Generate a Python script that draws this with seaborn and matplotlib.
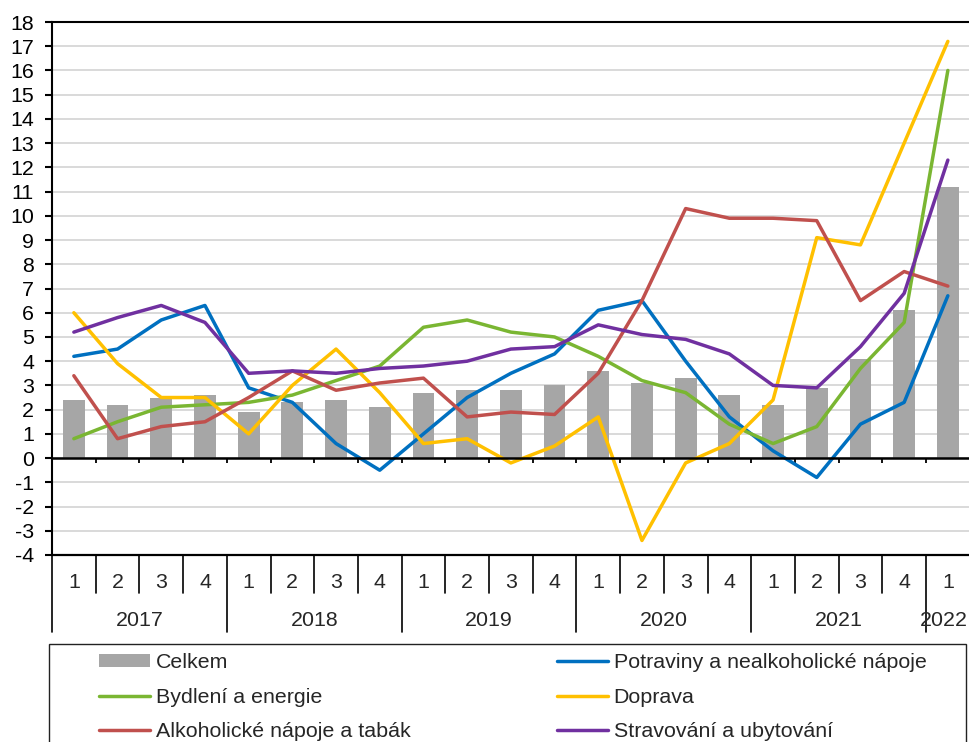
import numpy as np
import pandas as pd
import matplotlib
matplotlib.use("Agg")
import matplotlib.pyplot as plt
from matplotlib.patches import Patch, Rectangle
from matplotlib.lines import Line2D
from matplotlib.transforms import blended_transform_factory
import seaborn as sns

# ---------------- data ----------------
years = ["2017", "2018", "2019", "2020", "2021", "2022"]
quarters = ["1", "2", "3", "4"] * 5 + ["1"]

celkem = [2.4, 2.2, 2.5, 2.6, 1.9, 2.3, 2.4, 2.1, 2.7, 2.8,
          2.8, 3.0, 3.6, 3.1, 3.3, 2.6, 2.2, 2.9, 4.1, 6.1, 11.2]
potraviny = [4.2, 4.5, 5.7, 6.3, 2.9, 2.3, 0.6, -0.5, 1.0, 2.5,
             3.5, 4.3, 6.1, 6.5, 4.0, 1.7, 0.3, -0.8, 1.4, 2.3, 6.7]
bydleni = [0.8, 1.5, 2.1, 2.2, 2.3, 2.6, 3.2, 3.8, 5.4, 5.7,
           5.2, 5.0, 4.2, 3.2, 2.7, 1.4, 0.6, 1.3, 3.7, 5.6, 16.0]
doprava = [6.0, 3.9, 2.5, 2.5, 1.0, 3.0, 4.5, 2.7, 0.6, 0.8,
           -0.2, 0.5, 1.7, -3.4, -0.2, 0.6, 2.4, 9.1, 8.8, 13.0, 17.2]
alkohol = [3.4, 0.8, 1.3, 1.5, 2.5, 3.6, 2.8, 3.1, 3.3, 1.7,
           1.9, 1.8, 3.5, 6.5, 10.3, 9.9, 9.9, 9.8, 6.5, 7.7, 7.1]
stravovani = [5.2, 5.8, 6.3, 5.6, 3.5, 3.6, 3.5, 3.7, 3.8, 4.0,
              4.5, 4.6, 5.5, 5.1, 4.9, 4.3, 3.0, 2.9, 4.6, 6.8, 12.3]

series_names = ["Potraviny a nealkoholické nápoje", "Bydlení a energie", "Doprava",
                "Alkoholické nápoje a tabák", "Stravování a ubytování"]
series_values = [potraviny, bydleni, doprava, alkohol, stravovani]
series_colors = ["#0070c0", "#7ab632", "#ffc000", "#c0504d", "#7030a0"]
bar_label = "Celkem"
bar_color = "#a6a6a6"
yticks = list(range(-4, 19))

# ---------------- style ----------------
sns.set_style("white")
plt.rcParams["font.family"] = ["Liberation Sans", "DejaVu Sans"]
FS = 15.4

W, H = 969, 742
fig = plt.figure(figsize=(W / 100, H / 100), dpi=100)
ax_left, ax_top, ax_bottom = 52, 22, 555
step = 43.7
n = len(celkem)
ax = fig.add_axes([ax_left / W, 1 - ax_bottom / H, n * step / W, (ax_bottom - ax_top) / H])

x = np.arange(n)
bar_df = pd.DataFrame({"x": x, "v": celkem})
sns.barplot(data=bar_df, x="x", y="v", native_scale=True, width=0.5,
            color=bar_color, saturation=1, ax=ax, zorder=2, linewidth=0)

line_df = pd.concat([pd.DataFrame({"x": x, "v": vals, "serie": name})
                     for name, vals in zip(series_names, series_values)], ignore_index=True)
sns.lineplot(data=line_df, x="x", y="v", hue="serie", hue_order=series_names,
             palette=series_colors, linewidth=2.5, ax=ax, legend=False, zorder=3,
             sort=False)

ax.set_xlim(-0.5, n - 0.5)
ax.set_ylim(-4, 18)
ax.set_xlabel("")
ax.set_ylabel("")

# axes / grid
ax.set_yticks(yticks)
ax.set_yticklabels([str(t) for t in yticks])
ax.yaxis.grid(True, color="#cfcfcf", linewidth=1.1)
ax.xaxis.grid(False)
ax.set_axisbelow(True)
ax.tick_params(axis="y", direction="out", length=5, width=1.5, pad=8,
               labelsize=FS, left=True, colors="black")
for s in ["left", "top"]:
    ax.spines[s].set_visible(True)
    ax.spines[s].set_color("black")
    ax.spines[s].set_linewidth(1.5)
ax.spines["right"].set_visible(False)
ax.spines["bottom"].set_position(("data", 0))
ax.spines["bottom"].set_color("black")
ax.spines["bottom"].set_linewidth(1.8)
ax.spines["bottom"].set_zorder(4)
ax.set_xticks(np.arange(-0.5, n, 1.0))
ax.tick_params(axis="x", direction="out", length=3.8, width=1.3, bottom=True,
               labelbottom=False, colors="black")
ax.axhline(-4, color="black", linewidth=1.6, clip_on=False, zorder=4)

# category table below the plot
trans = blended_transform_factory(ax.transData, ax.transAxes)
hpx = ax_bottom - ax_top
def ypx(p):
    return -(p - ax_bottom) / hpx

year_bounds = [-0.5, 3.5, 7.5, 11.5, 15.5, 19.5]
for b in np.arange(-0.5, n, 1.0):
    if b in year_bounds:
        ax.plot([b, b], [0, ypx(632)], transform=trans, color="black", lw=1.2, clip_on=False)
    else:
        ax.plot([b, b], [0, ypx(593)], transform=trans, color="black", lw=1.2, clip_on=False)
for i, q in enumerate(quarters):
    ax.text(i, ypx(582), q, transform=trans, ha="center", va="center", fontsize=FS)
year_centers = [1.5, 5.5, 9.5, 13.5, 17.5, 19.92]
for xc, yl in zip(year_centers, years):
    ax.text(xc, ypx(621), yl, transform=trans, ha="center", va="center", fontsize=FS)

# legend
fig.patches.append(Rectangle((49 / W, 1 - 770 / H), (966 - 49) / W, (770 - 644) / H,
                             transform=fig.transFigure, fill=False,
                             edgecolor="#222222", linewidth=1.0))
bar_handle = Patch(facecolor=bar_color, edgecolor="none")
line_handles = [Line2D([], [], color=c, lw=2.5) for c in series_colors]
col1 = [(bar_handle, bar_label), (line_handles[1], series_names[1]), (line_handles[3], series_names[3])]
col2 = [(line_handles[0], series_names[0]), (line_handles[2], series_names[2]), (line_handles[4], series_names[4])]
common = dict(loc="upper left", frameon=False, fontsize=FS, borderpad=0, borderaxespad=0,
              handlelength=2.4, handletextpad=0.25, labelspacing=0.73, handleheight=0.52)
leg1 = fig.legend([h for h, _ in col1], [l for _, l in col1],
                  bbox_to_anchor=(99 / W, 1 - 653 / H), **common)
leg2 = fig.legend([h for h, _ in col2], [l for _, l in col2],
                  bbox_to_anchor=(557 / W, 1 - 653 / H), **common)

fig.savefig("out.png", dpi=100)
